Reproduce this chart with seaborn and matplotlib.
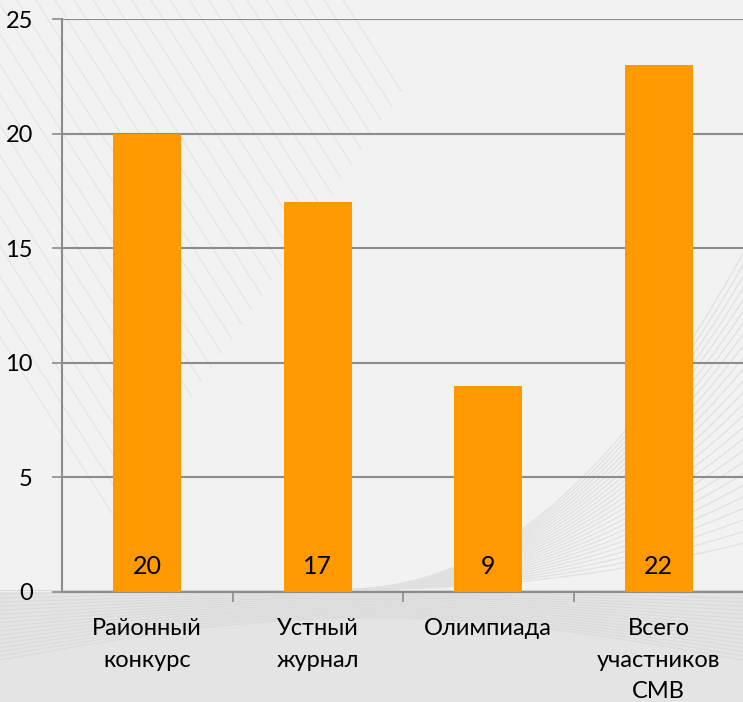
import numpy as np
import matplotlib
matplotlib.use("Agg")
import matplotlib.pyplot as plt
import seaborn as sns

# данные
categories = ["Районный\nконкурс", "Устный\nжурнал", "Олимпиада", "Всего\nучастников\nСМВ"]
values = [20, 17, 9, 23]
value_labels = ["20", "17", "9", "22"]
y_ticks = [0, 5, 10, 15, 20, 25]

plt.rcParams["font.family"] = ["Lato", "DejaVu Sans"]

fig = plt.figure(figsize=(7.43, 7.02), dpi=100)
fig.patch.set_facecolor("#f2f2f2")

# фон: светлая заливка и декоративные линии
bg = fig.add_axes([0, 0, 1, 1], zorder=-1)
bg.set_xlim(0, 1)
bg.set_ylim(0, 1)
bg.axis("off")
bg.axhspan(0, 0.157, color="#e4e4e4", lw=0)
t = np.linspace(0, 1, 300)
for k in range(30):
    s = k / 29
    # тонкие диагональные полосы слева, к центру короче
    x0 = -0.3 + s * 0.75
    ln = 0.75 * (1 - 0.8 * s)
    bg.plot(x0 + 0.6 * ln * t, 1.02 - ln * t, color="#e6e6e6", lw=1.0)
for k in range(26):
    s = k / 25
    # дуги справа
    xx = 0.45 + 0.6 * t
    yy = 0.16 + (0.08 + 0.5 * s) * (t ** 2.2)
    bg.plot(xx, yy, color="#e0e0e0", lw=0.9)
for k in range(18):
    s = k / 17
    # волна у нижнего края
    xx = t
    yy = 0.06 + 0.1 * s + 0.06 * np.sin(np.pi * t) * (1 - s)
    bg.plot(xx, yy, color="#dadada", lw=0.8)

ax = fig.add_axes([62 / 743, 1 - 592 / 702, (744 - 62) / 743, (592 - 19) / 702])
ax.set_facecolor("none")

sns.barplot(x=categories, y=values, color="#FF9900", width=0.4, saturation=1, ax=ax, zorder=3)

for i, lbl in enumerate(value_labels):
    ax.annotate(lbl, (i, 0), xytext=(0, 10), textcoords="offset points",
                ha="center", va="bottom", fontsize=18, color="#000000", zorder=4)

ax.set_ylim(0, 25)
ax.set_xlim(-0.5, 3.5)
ax.set_yticks(y_ticks)
ax.yaxis.grid(True, color="#8c8c8c", lw=1.5, zorder=0)
ax.set_axisbelow(True)

for side in ["top", "right"]:
    ax.spines[side].set_visible(False)
for side in ["left", "bottom"]:
    ax.spines[side].set_color("#8c8c8c")
    ax.spines[side].set_linewidth(1.5)

ax.tick_params(axis="y", length=7, width=1.2, color="#8c8c8c", pad=14, labelsize=17)
ax.set_xticks([0, 1, 2, 3])
ax.set_xticklabels(categories, fontsize=17, linespacing=1.6)
ax.set_xticks([0.5, 1.5, 2.5, 3.5], minor=True)
ax.tick_params(axis="x", which="major", length=0, pad=19)
ax.tick_params(axis="x", which="minor", length=7, width=1.2, color="#8c8c8c")
ax.set_xlabel("")
ax.set_ylabel("")

fig.savefig("out.png", dpi=100, facecolor=fig.get_facecolor())
plt.close(fig)
